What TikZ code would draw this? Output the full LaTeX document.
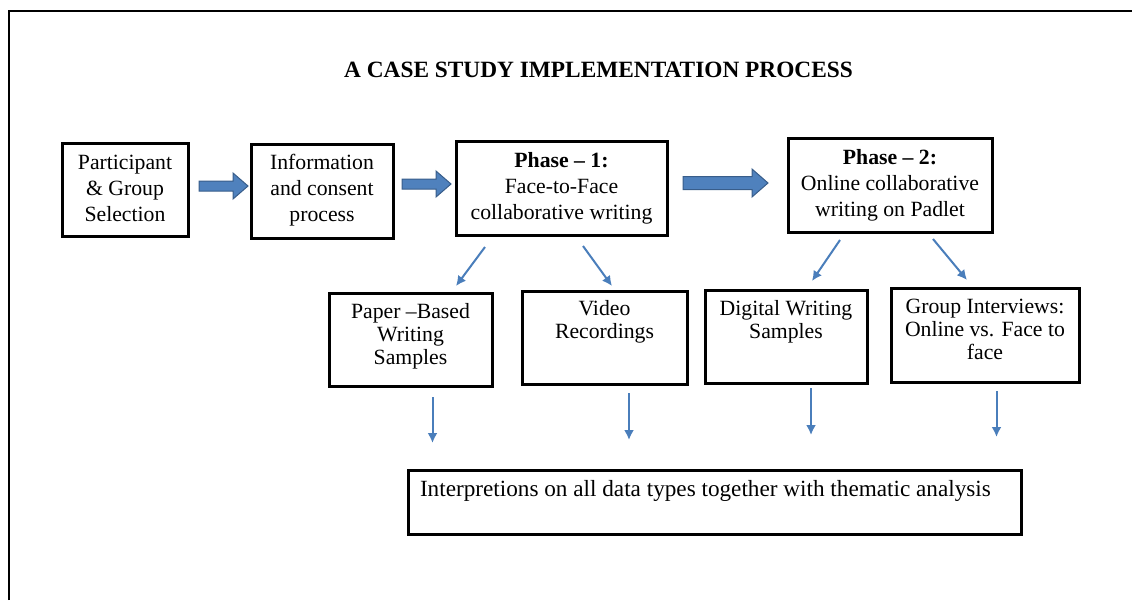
\documentclass[tikz,border=0pt]{standalone}
\usepackage{fontspec}
\setmainfont{Liberation Serif}
\usetikzlibrary{arrows.meta,calc}
\definecolor{arrfill}{HTML}{4F81BD}
\definecolor{arrline}{HTML}{385D8A}
\definecolor{thinblue}{HTML}{4A7EBB}
\newcommand{\mlines}[1]{\begin{tabular}[t]{@{}c@{}}#1\end{tabular}}
\newcommand{\blockarrow}[5]{%
  \path[blk] ($(#1)+(0,-#3)$) -- ($(#2)+(-#5,-#3)$) -- ($(#2)+(-#5,-#4)$) -- (#2)
    -- ($(#2)+(-#5,#4)$) -- ($(#2)+(-#5,#3)$) -- ($(#1)+(0,#3)$) -- cycle;}
\begin{document}
\begin{tikzpicture}[x=0.75pt,y=-0.75pt,
  bx/.style={draw=black,line width=2.25pt,inner sep=0pt,anchor=base,
    font=\fontsize{16.3}{19.6}\selectfont},
  lo/.style={font=\fontsize{16.3}{17.6}\selectfont},
  thinarr/.style={draw=thinblue,line width=1.5pt,-{Latex[length=7.5pt,width=7.5pt]}},
  blk/.style={fill=arrfill,draw=arrline,line width=0.75pt}]
\useasboundingbox (0,0) rectangle (1132,600);
\draw[line width=1.5pt] (9,600) -- (9,11) -- (1132,11);

\node[anchor=base,font=\fontsize{17.5}{20}\selectfont\bfseries] (title) at (598.5,77)
  {A CASE STUDY IMPLEMENTATION PROCESS};

% top row
\node[bx,minimum width=94.5pt,text height=19.5pt,text depth=50.25pt] (part) at (125,169)
  {\mlines{Participant\\\& Group\\Selection}};
\node[bx,minimum width=106.5pt,text height=18.75pt,text depth=51.75pt] (info) at (322,169)
  {\mlines{Information\\and consent\\process}};
\node[bx,minimum width=158.25pt,text height=19.5pt,text depth=51pt] (ph1) at (561.5,167)
  {\mlines{\textbf{Phase -- 1:}\\Face-to-Face\\collaborative writing}};
\node[bx,minimum width=153pt,text height=19.5pt,text depth=51pt] (ph2) at (890,164)
  {\mlines{\textbf{Phase -- 2:}\\Online collaborative\\writing on Padlet}};

% second row
\node[bx,lo,minimum width=122.25pt,text height=18.75pt,text depth=51pt] (paper) at (410.5,318)
  {\mlines{Paper --Based\\Writing\\Samples}};
\node[bx,lo,minimum width=123.75pt,text height=18pt,text depth=51.75pt] (video) at (604.5,315)
  {\mlines{Video\\Recordings}};
\node[bx,lo,minimum width=121.5pt,text height=18.75pt,text depth=51pt] (digital) at (786,315)
  {\mlines{Digital Writing\\Samples}};
\node[bx,lo,minimum width=141pt,text height=18.75pt,text depth=51.75pt] (group) at (985,313)
  {\mlines{Group Interviews:\\Online vs. Face to\\face}};

% bottom box
\node[bx,inner xsep=9pt,text height=19.5pt,text depth=28.5pt,font=\fontsize{17.4}{20}\selectfont] (interp) at (714.5,496)
  {\makebox[441.75pt][l]{Interpretions on all data types together with thematic analysis}};

% block arrows
\coordinate (a1s) at (199,186); \coordinate (a1e) at (248,186);
\coordinate (a2s) at (402,184); \coordinate (a2e) at (451,184);
\coordinate (a3s) at (683,183); \coordinate (a3e) at (768,183);
\blockarrow{a1s}{a1e}{5}{13}{15}
\blockarrow{a2s}{a2e}{5}{13}{15}
\blockarrow{a3s}{a3e}{6.5}{14}{16}

% thin arrows
\coordinate (t1s) at (485,247); \coordinate (t1e) at (456,286);
\coordinate (t2s) at (583,246); \coordinate (t2e) at (612,286);
\coordinate (t3s) at (840,240); \coordinate (t3e) at (812,281);
\coordinate (t4s) at (933,239); \coordinate (t4e) at (967,280);
\draw[thinarr] (t1s) -- (t1e);
\draw[thinarr] (t2s) -- (t2e);
\draw[thinarr] (t3s) -- (t3e);
\draw[thinarr] (t4s) -- (t4e);

\coordinate (d1s) at (432.5,397); \coordinate (d1e) at (432.5,443);
\coordinate (d2s) at (629,393); \coordinate (d2e) at (629,440);
\coordinate (d3s) at (811,388); \coordinate (d3e) at (811,435);
\coordinate (d4s) at (996.5,391); \coordinate (d4e) at (996.5,437);
\draw[thinarr] (d1s) -- (d1e);
\draw[thinarr] (d2s) -- (d2e);
\draw[thinarr] (d3s) -- (d3e);
\draw[thinarr] (d4s) -- (d4e);
\end{tikzpicture}
\end{document}
